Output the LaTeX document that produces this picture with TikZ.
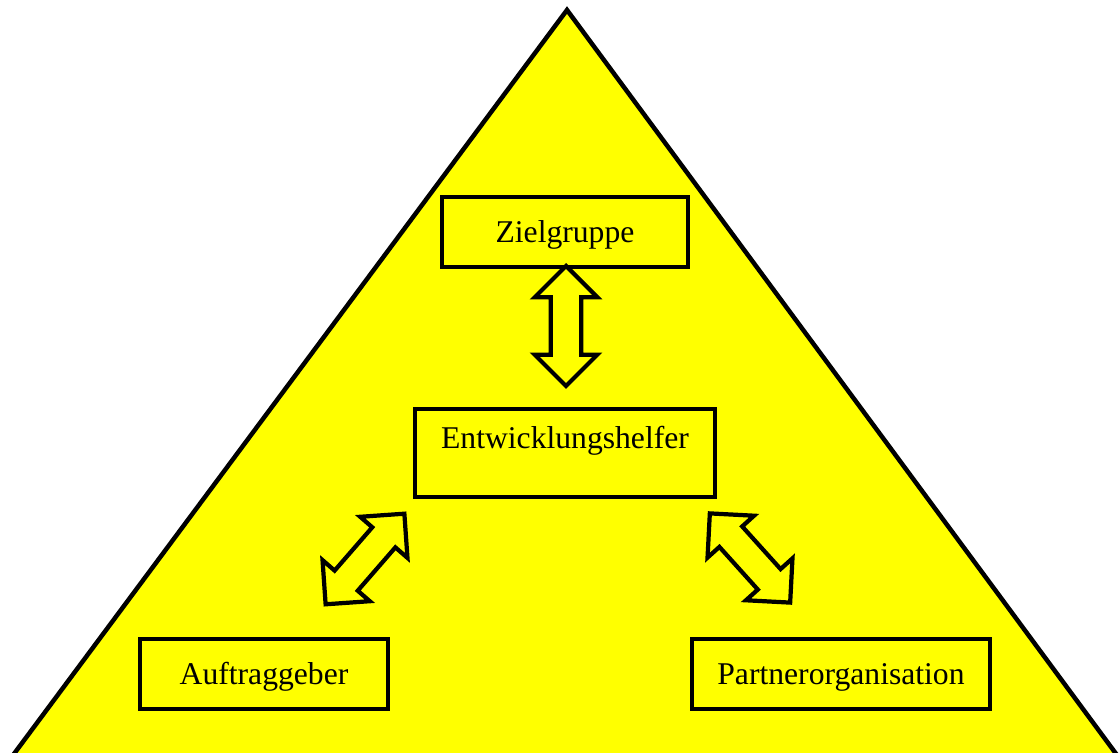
\documentclass[tikz,border=0pt]{standalone}
\usepackage{fontspec}
\setmainfont{Liberation Serif}
\usetikzlibrary{shapes.arrows}
\definecolor{pyramidyellow}{RGB}{255,255,0}
\tikzset{
	box/.style={draw, line width=3.2pt, fill=pyramidyellow, minimum height=1.75cm, font=\fontsize{22.5}{26}\selectfont}, % the four role boxes
	dblarrow/.style={double arrow, draw, line width=3pt, fill=pyramidyellow, minimum height=3.0cm, inner xsep=0pt, inner ysep=0.33cm, double arrow head extend=0.4cm}, % hollow two-way arrows
}
\begin{document}
\begin{tikzpicture}[x=0.025cm, y=-0.025cm]
	\useasboundingbox (0,0) rectangle (1120,753);
	% the pyramid
	\draw[line width=3.2pt, fill=pyramidyellow] (2,770) -- (567,10) -- (1128,770) -- cycle;

	\node[box, minimum width=6.15cm, text height=0.72cm] (ziel) at (565,232) {Zielgruppe};
	\node[box, minimum width=7.5cm, minimum height=2.2cm, text depth=0.8cm] (helfer) at (565,453) {Entwicklungshelfer};
	\node[box, minimum width=6.2cm, text height=0.72cm] (auftrag) at (264,674) {Auftraggeber};
	\node[box, minimum width=7.45cm, text height=0.72cm] (partner) at (841,674) {Partnerorganisation};

	\node[dblarrow, rotate=90] (zh) at (566,326) {};
	\node[dblarrow, rotate=49] (ha) at (365,559) {};
	\node[dblarrow, rotate=-48] (hp) at (750,558) {};
\end{tikzpicture}
\end{document}
